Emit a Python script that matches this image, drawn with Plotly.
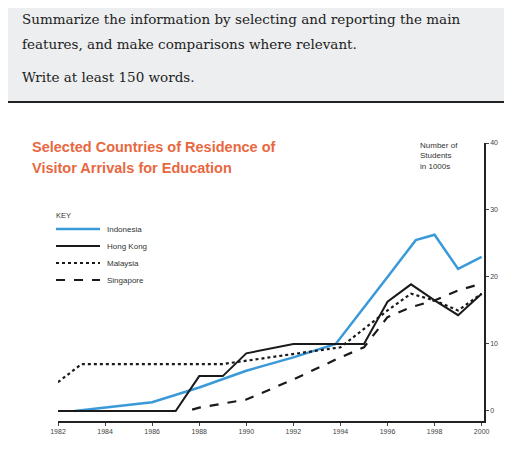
import plotly.graph_objects as go

ind_x = [1982.7, 1986, 1988, 1990, 1992, 1993.8, 1996, 1997.2, 1998, 1999, 2000]
ind_y = [0, 1.3, 3.5, 6, 8, 10, 20, 25.5, 26.3, 21.2, 23]
hk_x = [1982, 1987, 1988, 1989, 1990, 1992, 1995, 1996, 1997, 1998, 1999, 2000]
hk_y = [0, 0, 5.2, 5.2, 8.6, 10, 10, 16.3, 18.9, 16.5, 14.3, 17.5]
my_x = [1982, 1983, 1989, 1990, 1992, 1994, 1996, 1997, 1998, 1999, 2000]
my_y = [4.3, 7, 7, 7.5, 8.5, 9.5, 15, 17.5, 16.5, 15, 17.5]
sg_x = [1987.7, 1988, 1990, 1992, 1994, 1995, 1996, 1997, 1998, 1999, 2000]
sg_y = [0.2, 0.5, 1.7, 4.7, 8, 9.5, 14, 15.5, 16.5, 18, 19]
names = ["Indonesia", "Hong Kong", "Malaysia", "Singapore"]
years = list(range(1982, 2001, 2))
yticks = [0, 10, 20, 30, 40]

styles = [dict(color="#3a9ad9", width=2.5), dict(color="#1a1a1a", width=2),
          dict(color="#1a1a1a", width=2.2, dash="dot"), dict(color="#1a1a1a", width=2.2, dash="dash")]

fig = go.Figure()
for xs, ys, n, st in zip([ind_x, hk_x, my_x, sg_x], [ind_y, hk_y, my_y, sg_y], names, styles):
    fig.add_trace(go.Scatter(x=xs, y=ys, name=n, mode="lines", line=st, showlegend=False))

OFF = 7
T, B = 142 - OFF, 420 - OFF
def py(p):
    p = p - OFF
    return (B - p) / (B - T)
W = 426
def px(p):
    return (p - 50) / W

fig.update_layout(
    width=512, height=449, margin=dict(l=50, r=36, t=T, b=449 - B),
    paper_bgcolor="white", plot_bgcolor="white",
    xaxis=dict(range=[1982, 2000.1], tickvals=years, showgrid=False, zeroline=False,
               showline=True, linecolor="#222", linewidth=1.5, ticks="outside",
               ticklen=3, tickfont=dict(size=7, color="#444", family="Liberation Sans")),
    yaxis=dict(range=[-1.5, 40], tickvals=yticks, side="right", showgrid=False,
               zeroline=False, showline=True, linecolor="#222", linewidth=1.5,
               ticks="outside", ticklen=3,
               tickfont=dict(size=7, color="#444", family="Liberation Sans")),
)

fig.add_shape(type="rect", xref="paper", yref="paper", x0=px(0), x1=px(512),
              y0=py(101), y1=py(-10), fillcolor="#eceeef", line=dict(width=0), layer="below")
fig.add_shape(type="line", xref="paper", yref="paper", x0=px(0), x1=px(512),
              y0=py(101), y1=py(101), line=dict(color="#222", width=2))

def ann(text, x, y, size, color="#222", family="DejaVu Serif"):
    fig.add_annotation(text=text, xref="paper", yref="paper", x=x, y=y, showarrow=False,
                       xanchor="left", yanchor="middle", align="left",
                       font=dict(size=size, color=color, family=family))

ann("Summarize the information by selecting and reporting the main", px(12), py(18), 13.5)
ann("features, and make comparisons where relevant.", px(12), py(43), 13.5)
ann("Write at least 150 words.", px(12), py(76), 13.5)
ann("<b>Selected Countries of Residence of</b>", px(22), py(146), 14.5, "#e8683f", "Liberation Sans")
ann("<b>Visitor Arrivals for Education</b>", px(22), py(167), 14.5, "#e8683f", "Liberation Sans")
ann("Number of<br>Students<br>in 1000s", px(410), py(155), 8, "#333", "Liberation Sans")

ann("KEY", px(46), py(214), 7.5, "#333", "Liberation Sans")
for i, (n, st) in enumerate(zip(names, styles)):
    yy = py(228 + 17 * i)
    fig.add_shape(type="line", xref="paper", yref="paper", x0=px(48), x1=px(92),
                  y0=yy, y1=yy, line=st)
    ann(n, px(97), yy, 8, "#333", "Liberation Sans")

fig.write_html("out.html")
